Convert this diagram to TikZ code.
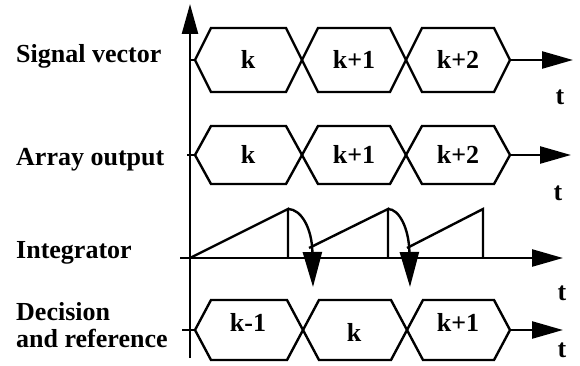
\documentclass[tikz,border=0pt]{standalone}
\usepackage{fontspec}
\setmainfont{Liberation Serif}
\usetikzlibrary{arrows.meta}
\newcommand\hexa[4]{% left tip x, right tip x, centre y, half height
  \draw (#1,#3) -- (#1+16,#3-#4) -- (#2-16,#3-#4) -- (#2,#3) -- (#2-16,#3+#4) -- (#1+16,#3+#4) -- cycle;}
\begin{document}
\begin{tikzpicture}[x=1pt,y=-1pt,line width=2.4pt,line join=miter,
  lbl/.style={font=\fontsize{26}{27}\selectfont\bfseries, inner sep=0pt, anchor=base},
  side/.style={lbl, anchor=base west, align=left},
  harrow/.style={-{Triangle[length=31pt,width=17pt]}},
  darrow/.style={-{Triangle[length=35pt,width=19pt]}}]
\useasboundingbox (0,0) rectangle (580,366);

% vertical axis
\coordinate (ax0) at (190,358);
\coordinate (ax1) at (190,4);
\draw[-{Triangle[length=30pt,width=16pt]}] (ax0) -- (ax1);

% side labels
\node[side] (l1) at (15,63) {Signal vector};
\node[side] (l2) at (15,165) {Array output};
\node[side] (l3) at (15,258) {Integrator};
\node[side] (l4) at (15,320) {Decision};
\node[side] (l5) at (15,347) {and reference};

% row 1: signal vector
\draw (190,60) -- (195,60);
\hexa{195}{302}{60}{32}
\hexa{302}{406}{60}{32}
\hexa{406}{510}{60}{32}
\node[lbl] (s1) at (248,69) {k};
\node[lbl] (s2) at (354,69) {k+1};
\node[lbl] (s3) at (458,69) {k+2};
\coordinate (r1a) at (510,60);
\coordinate (r1b) at (573,60);
\draw[harrow] (r1a) -- (r1b);
\node[lbl] (t1) at (560,105) {t};

% row 2: array output
\draw (187,155) -- (195,155);
\hexa{195}{302}{155}{29}
\hexa{302}{406}{155}{29}
\hexa{406}{510}{155}{29}
\node[lbl] (a1) at (248,164) {k};
\node[lbl] (a2) at (354,164) {k+1};
\node[lbl] (a3) at (458,164) {k+2};
\coordinate (r2a) at (510,155);
\coordinate (r2b) at (571,155);
\draw[harrow] (r2a) -- (r2b);
\node[lbl] (t2) at (558,200) {t};

% row 3: integrator
\coordinate (b0) at (180,258);
\coordinate (b1) at (563,258);
\draw[harrow] (b0) -- (b1);
\coordinate (p1) at (288,209);
\coordinate (p2) at (388,209);
\coordinate (p3) at (483,209);
\draw (190,258) -- (p1) -- (288,258);
\draw (309,248) -- (p2) -- (388,258);
\draw (407,248) -- (p3) -- (483,258);
\coordinate (d1) at (313,287);
\coordinate (d2) at (410,287);
\draw[darrow] (p1) .. controls (301,209) and (312,228) .. (d1);
\draw[darrow] (p2) .. controls (399,209) and (409,228) .. (d2);
\node[lbl] (t3) at (562,300) {t};

% row 4: decision and reference
\draw (182,330) -- (195,330);
\hexa{195}{303}{330}{30}
\hexa{303}{407}{330}{30}
\hexa{407}{510}{330}{30}
\node[lbl] (e1) at (248,331) {k-1};
\node[lbl] (e2) at (354,341) {k};
\node[lbl] (e3) at (458,331) {k+1};
\coordinate (r4a) at (510,330);
\coordinate (r4b) at (563,330);
\draw[harrow] (r4a) -- (r4b);
\node[lbl] (t4) at (562,357) {t};
\end{tikzpicture}
\end{document}
